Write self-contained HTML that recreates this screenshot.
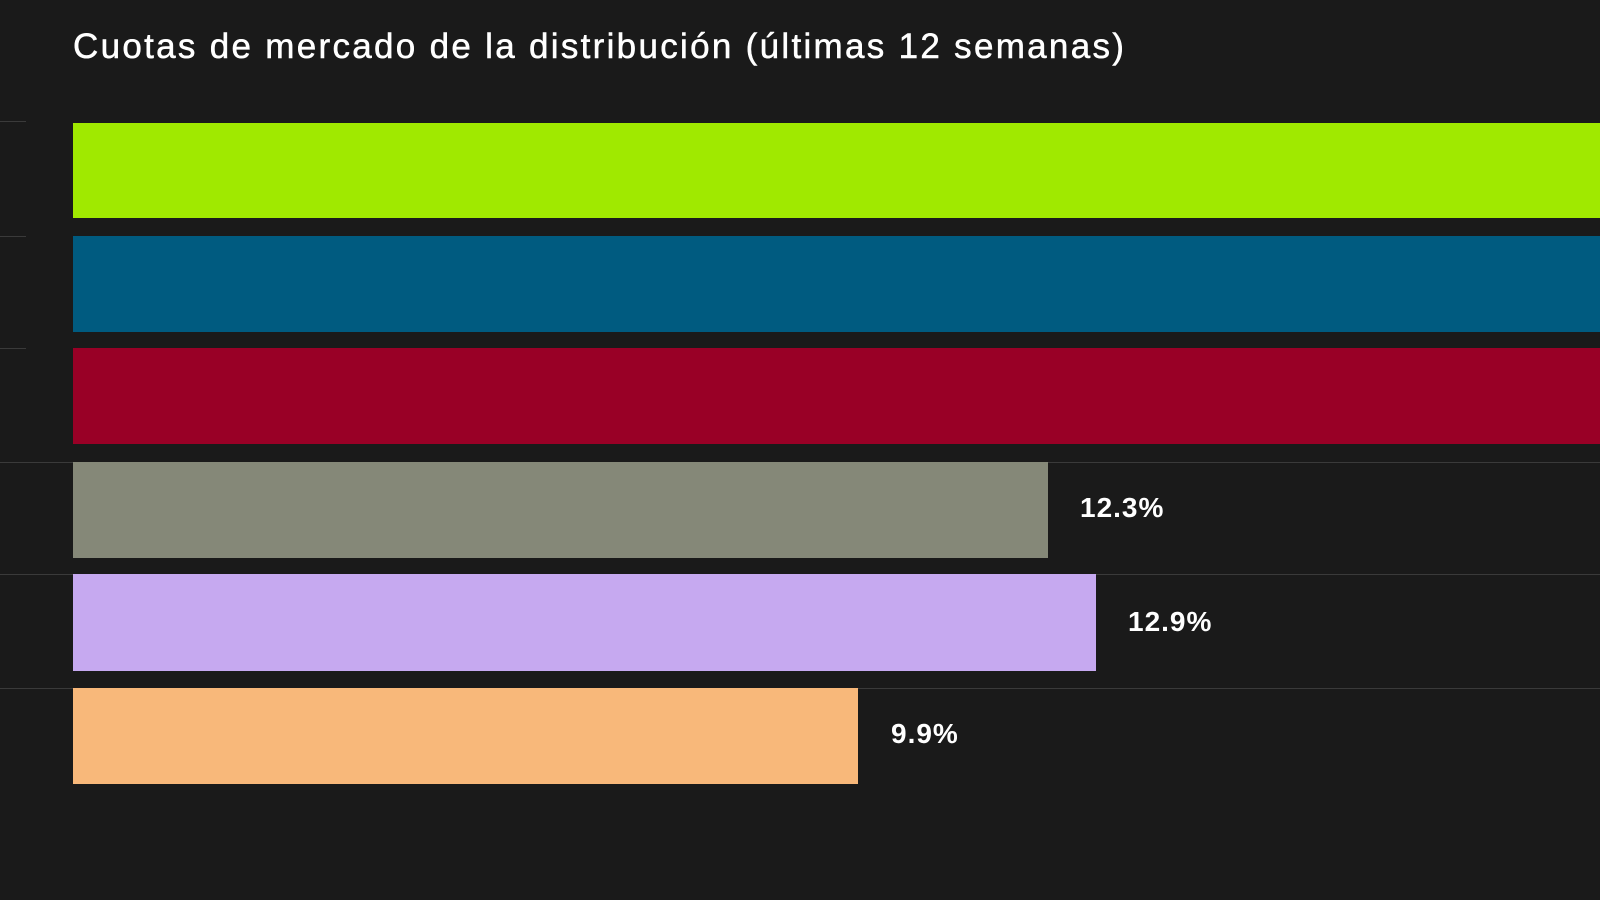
<!DOCTYPE html>
<html><head><meta charset="utf-8"><style>
html,body{margin:0;padding:0;background:#1a1a1a;width:1600px;height:900px;overflow:hidden;font-family:"Liberation Sans",sans-serif}
.t{position:absolute;left:73px;top:27px;color:#fff;font-size:35px;letter-spacing:2.3px;-webkit-text-stroke:0.5px #fff}
.g{position:absolute;height:1px;background:#3a3a3a}
.b{position:absolute;left:73px}
.l{position:absolute;color:#fff;font-size:28px;font-weight:bold;letter-spacing:1px}
</style></head><body>
<div class="t">Cuotas de mercado de la distribución (últimas 12 semanas)</div>
<div class="g" style="left:0;width:26px;top:121px"></div>
<div class="g" style="left:0;width:26px;top:236px"></div>
<div class="g" style="left:0;width:26px;top:348px"></div>
<div class="g" style="left:0;width:1600px;top:462px"></div>
<div class="g" style="left:0;width:1600px;top:574px"></div>
<div class="g" style="left:0;width:1600px;top:688px"></div>
<div class="b" style="top:123px;height:95px;width:1527px;background:#a0e900"></div>
<div class="b" style="top:236px;height:96px;width:1527px;background:#005b80"></div>
<div class="b" style="top:348px;height:96px;width:1527px;background:#990026"></div>
<div class="b" style="top:462px;height:96px;width:975px;background:#858878"></div>
<div class="b" style="top:574px;height:97px;width:1023px;background:#c6a9f0"></div>
<div class="b" style="top:688px;height:96px;width:785px;background:#f8b87a"></div>
<div class="l" style="left:1080px;top:492px">12.3%</div>
<div class="l" style="left:1128px;top:606px">12.9%</div>
<div class="l" style="left:891px;top:718px">9.9%</div>
</body></html>
